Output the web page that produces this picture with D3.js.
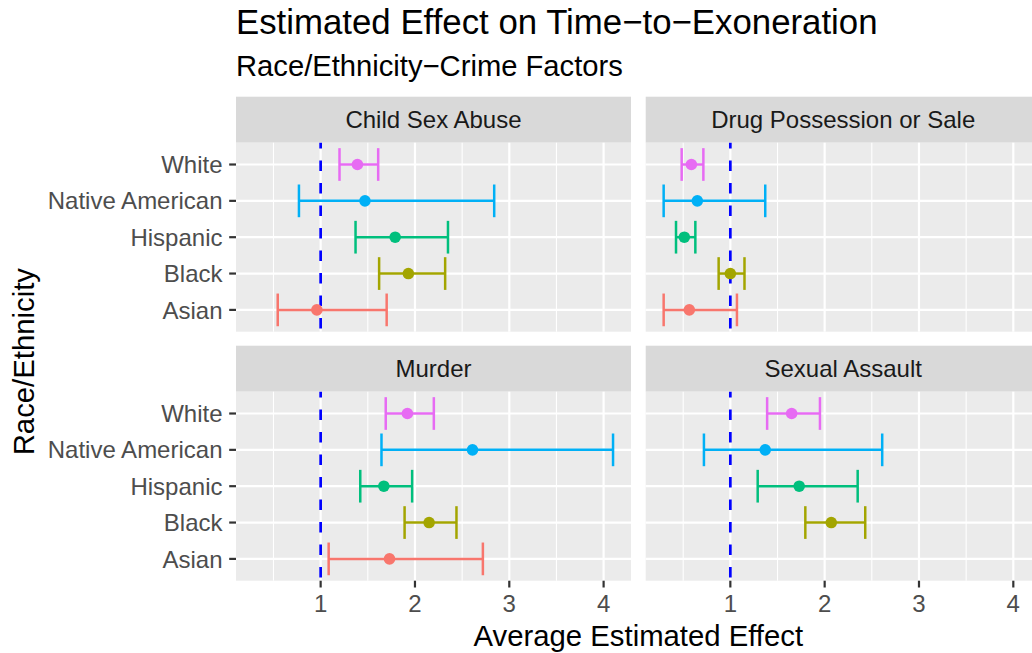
<!DOCTYPE html>
<html>
<head>
<meta charset="utf-8">
<script src="https://cdn.jsdelivr.net/npm/d3@7"></script>
<style>
  html, body { margin: 0; padding: 0; background: #fff; }
  svg { display: block; font-family: "Liberation Sans", Arial, Helvetica, sans-serif; }
</style>
</head>
<body>
<svg id="chart" width="1032" height="653"></svg>
<script>
// Facets (crime types) and race/ethnicity levels (bottom to top)
const crimes = ["Child Sex Abuse", "Drug Possession or Sale", "Murder", "Sexual Assault"];
const races = ["Asian", "Black", "Hispanic", "Native American", "White"];
const raceColors = ["#F8766D", "#A3A500", "#00BF7D", "#00B0F6", "#E76BF3"];

// Estimates and interval bounds, one value per race (order as in `races`)
const childSexAbuseLow  = [0.545, 1.62, 1.37, 0.77, 1.20];
const childSexAbuseEst  = [0.96,  1.93, 1.79, 1.47, 1.39];
const childSexAbuseHigh = [1.70,  2.32, 2.35, 2.84, 1.61];

const drugLow  = [0.293, 0.876, 0.424, 0.293, 0.484];
const drugEst  = [0.565, 1.00,  0.512, 0.65,  0.587];
const drugHigh = [1.07,  1.15,  0.629, 1.37,  0.714];

const murderLow  = [1.085, 1.89, 1.42, 1.645, 1.69];
const murderEst  = [1.73,  2.15, 1.67, 2.61,  1.92];
const murderHigh = [2.72,  2.44, 1.97, 4.10,  2.20];

const sexualAssaultLow  = [null, 1.795, 1.29, 0.72, 1.39];
const sexualAssaultEst  = [null, 2.07,  1.73, 1.37, 1.65];
const sexualAssaultHigh = [null, 2.43,  2.35, 2.61, 1.95];

const xTicks = [1, 2, 3, 4];
const xMinor = [0.5, 1.5, 2.5, 3.5];
const referenceLine = 1;

const lows  = [childSexAbuseLow, drugLow, murderLow, sexualAssaultLow];
const ests  = [childSexAbuseEst, drugEst, murderEst, sexualAssaultEst];
const highs = [childSexAbuseHigh, drugHigh, murderHigh, sexualAssaultHigh];

// Long-format rows
const rows = [];
crimes.forEach((crime, ci) => {
  races.forEach((race, ri) => {
    if (ests[ci][ri] == null) return;
    rows.push({ crime, race, color: raceColors[ri], lo: lows[ci][ri], est: ests[ci][ri], hi: highs[ci][ri] });
  });
});

// Layout
const plotLeft = 236, plotTop = 96.7;
const panelW = 395, panelH = 189, stripH = 46;
const gapX = 14.7, gapY = 14;
const smallFont = 24, axisTitleFont = 29.3;

const svg = d3.select("#chart");

// Shared x scale with 5% expansion
const xLo = d3.min(rows, d => d.lo), xHi = d3.max(rows, d => d.hi);
const pad = (xHi - xLo) * 0.05;
const x = d3.scaleLinear().domain([xLo - pad, xHi + pad]).range([0, panelW]);
const y = d3.scalePoint().domain(races).range([panelH, 0]).padding(0.6);

// Titles
svg.append("text").attr("x", 236).attr("y", 33.5)
  .attr("font-size", 34.8).attr("fill", "#000")
  .text("Estimated Effect on Time\u2212to\u2212Exoneration");
svg.append("text").attr("x", 236).attr("y", 76)
  .attr("font-size", 29.2).attr("fill", "#000")
  .text("Race/Ethnicity\u2212Crime Factors");

crimes.forEach((crime, ci) => {
  const col = ci % 2, row = Math.floor(ci / 2);
  const px = plotLeft + col * (panelW + gapX);
  const sy = plotTop + row * (stripH + panelH + gapY);
  const py = sy + stripH;

  // Strip
  svg.append("rect").attr("x", px).attr("y", sy).attr("width", panelW).attr("height", stripH)
    .attr("fill", "#D9D9D9");
  svg.append("text").attr("x", px + panelW / 2).attr("y", sy + stripH / 2 + 8.6)
    .attr("text-anchor", "middle").attr("font-size", smallFont).attr("fill", "#1A1A1A")
    .text(crime);

  const g = svg.append("g").attr("transform", `translate(${px},${py})`);
  g.append("rect").attr("width", panelW).attr("height", panelH).attr("fill", "#EBEBEB");

  // Grid
  g.selectAll(".minor").data(xMinor).join("line")
    .attr("x1", d => x(d)).attr("x2", d => x(d)).attr("y1", 0).attr("y2", panelH)
    .attr("stroke", "#fff").attr("stroke-width", 1.1);
  g.selectAll(".majorx").data(xTicks).join("line")
    .attr("x1", d => x(d)).attr("x2", d => x(d)).attr("y1", 0).attr("y2", panelH)
    .attr("stroke", "#fff").attr("stroke-width", 2.2);
  g.selectAll(".majory").data(races).join("line")
    .attr("x1", 0).attr("x2", panelW).attr("y1", d => y(d)).attr("y2", d => y(d))
    .attr("stroke", "#fff").attr("stroke-width", 2.2);

  // Reference line
  g.append("line")
    .attr("x1", x(referenceLine)).attr("x2", x(referenceLine)).attr("y1", 0).attr("y2", panelH)
    .attr("stroke", "#0000FF").attr("stroke-width", 2.7)
    .attr("stroke-dasharray", "10.5,12").attr("stroke-dashoffset", 4.6);

  const data = rows.filter(r => r.crime === crime);
  const capH = y.step() * 0.45;

  const eb = g.selectAll(".eb").data(data).join("g").attr("stroke", d => d.color).attr("stroke-width", 2.5);
  eb.append("line").attr("x1", d => x(d.lo)).attr("x2", d => x(d.hi))
    .attr("y1", d => y(d.race)).attr("y2", d => y(d.race));
  eb.append("line").attr("x1", d => x(d.lo)).attr("x2", d => x(d.lo))
    .attr("y1", d => y(d.race) - capH).attr("y2", d => y(d.race) + capH);
  eb.append("line").attr("x1", d => x(d.hi)).attr("x2", d => x(d.hi))
    .attr("y1", d => y(d.race) - capH).attr("y2", d => y(d.race) + capH);

  g.selectAll(".pt").data(data).join("circle")
    .attr("cx", d => x(d.est)).attr("cy", d => y(d.race)).attr("r", 5.8)
    .attr("fill", d => d.color);

  // Y axis on left column
  if (col === 0) {
    const ya = g.append("g");
    ya.selectAll("line").data(races).join("line")
      .attr("x1", -6.8).attr("x2", 0).attr("y1", d => y(d)).attr("y2", d => y(d))
      .attr("stroke", "#333").attr("stroke-width", 2.2);
    ya.selectAll("text").data(races).join("text")
      .attr("x", -13.5).attr("y", d => y(d)).attr("dy", "0.36em")
      .attr("text-anchor", "end").attr("font-size", smallFont).attr("fill", "#4D4D4D")
      .text(d => d);
  }
  // X axis on bottom row
  if (row === 1) {
    const xa = g.append("g").attr("transform", `translate(0,${panelH})`);
    xa.selectAll("line").data(xTicks).join("line")
      .attr("x1", d => x(d)).attr("x2", d => x(d)).attr("y1", 0).attr("y2", 6.8)
      .attr("stroke", "#333").attr("stroke-width", 2.2);
    xa.selectAll("text").data(xTicks).join("text")
      .attr("x", d => x(d)).attr("y", 31)
      .attr("text-anchor", "middle").attr("font-size", smallFont).attr("fill", "#4D4D4D")
      .text(d => d);
  }
});

// Axis titles
const plotRight = plotLeft + 2 * panelW + gapX;
svg.append("text").attr("x", (plotLeft + plotRight) / 2).attr("y", 646)
  .attr("text-anchor", "middle").attr("font-size", axisTitleFont).attr("fill", "#000")
  .text("Average Estimated Effect");
const panelsTop = plotTop + stripH, panelsBottom = plotTop + 2 * (stripH + panelH) + gapY;
svg.append("text")
  .attr("transform", `translate(34,${(panelsTop + panelsBottom) / 2}) rotate(-90)`)
  .attr("text-anchor", "middle").attr("font-size", axisTitleFont).attr("fill", "#000")
  .text("Race/Ethnicity");
</script>
</body>
</html>
